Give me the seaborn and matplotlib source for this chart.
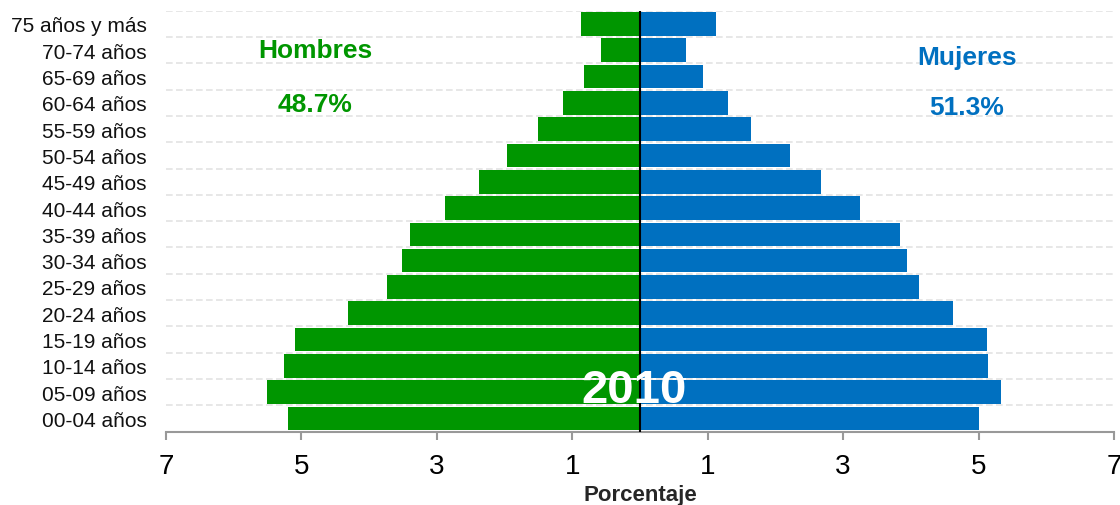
import pandas as pd
import numpy as np
import matplotlib.pyplot as plt
import seaborn as sns
from matplotlib.ticker import FuncFormatter, FixedLocator

# style
sns.set_theme(style="white")
plt.rcParams['font.family'] = ['Liberation Sans', 'DejaVu Sans']

# datos (porcentaje de la población, 2010)
edades = ['75 años y más', '70-74 años', '65-69 años', '60-64 años', '55-59 años',
          '50-54 años', '45-49 años', '40-44 años', '35-39 años', '30-34 años',
          '25-29 años', '20-24 años', '15-19 años', '10-14 años', '05-09 años',
          '00-04 años']
hombres = [0.87, 0.58, 0.82, 1.14, 1.50, 1.96, 2.38, 2.88, 3.40, 3.52,
           3.73, 4.31, 5.10, 5.26, 5.51, 5.20]
mujeres = [1.12, 0.68, 0.93, 1.30, 1.64, 2.22, 2.67, 3.25, 3.84, 3.94,
           4.12, 4.62, 5.12, 5.14, 5.33, 5.01]
ticks = [-7, -5, -3, -1, 1, 3, 5, 7]
verde = '#009600'
azul = '#0070C0'

df = pd.DataFrame({
    'Edad': edades * 2,
    'Valor': [-v for v in hombres] + mujeres,
    'Sexo': ['Hombres'] * len(edades) + ['Mujeres'] * len(edades),
})

fig = plt.figure(figsize=(11.2, 5.06), dpi=100)
ax = fig.add_axes([0.1482, 0.1449, 0.8464, 0.832])

sns.barplot(data=df, y='Edad', x='Valor', hue='Sexo', order=edades,
            palette={'Hombres': verde, 'Mujeres': azul}, dodge=False,
            width=0.9, legend=False, ax=ax, linewidth=0, saturation=1)

ax.set_xlim(-7, 7)
ax.set_ylim(15.5, -0.5)
ax.xaxis.set_major_locator(FixedLocator(ticks))
ax.xaxis.set_major_formatter(FuncFormatter(lambda v, p: f'{abs(v):.0f}'))

# líneas de fondo entre grupos
ax.yaxis.set_minor_locator(FixedLocator(np.arange(-0.5, 15, 1)))
ax.grid(which='minor', axis='y', color='#e3e3e3', linestyle=(0, (4, 2)), linewidth=1.2)
ax.grid(which='major', visible=False)
ax.set_axisbelow(True)

ax.axvline(0, color='black', linewidth=1.5, zorder=5)

for s in ['top', 'right', 'left']:
    ax.spines[s].set_visible(False)
ax.spines['bottom'].set_color('#999999')
ax.spines['bottom'].set_linewidth(1.5)

ax.tick_params(axis='x', which='major', bottom=True, length=6, width=1.5,
               color='#999999', labelsize=20, pad=9, labelcolor='black')
ax.tick_params(axis='y', which='both', length=0, labelsize=15, pad=14,
               labelcolor='#111111')

ax.set_ylabel('')
ax.set_xlabel('Porcentaje', fontsize=16, fontweight='bold', labelpad=4)

ax.text(-4.8, 1, 'Hombres', color=verde, fontsize=19, fontweight='bold',
        ha='center', va='center')
ax.text(-4.8, 3.05, '48.7%', color=verde, fontsize=19, fontweight='bold',
        ha='center', va='center')
ax.text(4.83, 1.25, 'Mujeres', color=azul, fontsize=19, fontweight='bold',
        ha='center', va='center')
ax.text(4.83, 3.15, '51.3%', color=azul, fontsize=19, fontweight='bold',
        ha='center', va='center')
ax.text(-0.09, 13.9, '2010', color='white', fontsize=34, fontweight='bold',
        ha='center', va='center', zorder=6)

plt.savefig('out.png', dpi=100)
plt.close()
